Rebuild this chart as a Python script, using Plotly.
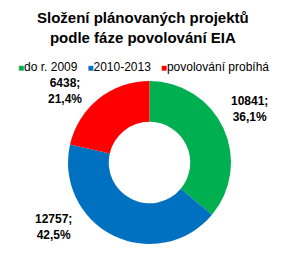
import plotly.graph_objects as go

categories = ["do r. 2009", "2010-2013", "povolování probíhá"]
values = [10841, 12757, 6438]
colors = ["#00B050", "#0070C0", "#FF0000"]
title_lines = ["Složení plánovaných projektů", "podle fáze povolování EIA"]

W, H = 286, 253
font = "Liberation Sans, Arial, sans-serif"

cx, cy, r = 149.5, 162.5, 81.5
fig = go.Figure(go.Pie(
    labels=categories,
    values=values,
    marker=dict(colors=colors, line=dict(width=0)),
    hole=0.5,
    sort=False,
    direction="clockwise",
    rotation=0,
    textinfo="none",
    showlegend=False,
    domain=dict(x=[(cx - r) / W, (cx + r) / W], y=[1 - (cy + r) / H, 1 - (cy - r) / H]),
    hoverinfo="skip",
))

# data labels (text from data, placement in pixels as layout)
label_pos = [(249.5, 109), (53.5, 226.5), (65, 91)]
total = sum(values)
for v, (px, py) in zip(values, label_pos):
    pct = f"{100 * v / total:.1f}".replace(".", ",")
    fig.add_annotation(
        text=f"<b>{v};<br>{pct}%</b>", x=px / W, y=1 - py / H,
        xref="paper", yref="paper", xanchor="center", yanchor="middle",
        showarrow=False, align="center",
        font=dict(family=font, size=12, color="#000000"),
    )

legend_text = "   ".join(
    f"<span style='color:{c};font-size:10px'>■</span>{n}" for n, c in zip(categories, colors)
)
fig.add_annotation(
    text=legend_text, x=0.5, y=1 - 67 / H, xref="paper", yref="paper",
    xanchor="center", yanchor="middle", showarrow=False,
    font=dict(family=font, size=12, color="#000000"),
)
fig.add_annotation(
    text="<b>" + "<br>".join(title_lines) + "</b>",
    x=0.5, y=1 - 27 / H, xref="paper", yref="paper",
    xanchor="center", yanchor="middle", showarrow=False,
    font=dict(family=font, size=15, color="#000000"),
)

fig.update_layout(
    width=W, height=H,
    margin=dict(l=0, r=0, t=0, b=0),
    paper_bgcolor="white", plot_bgcolor="white",
)

fig.write_html("out.html")
